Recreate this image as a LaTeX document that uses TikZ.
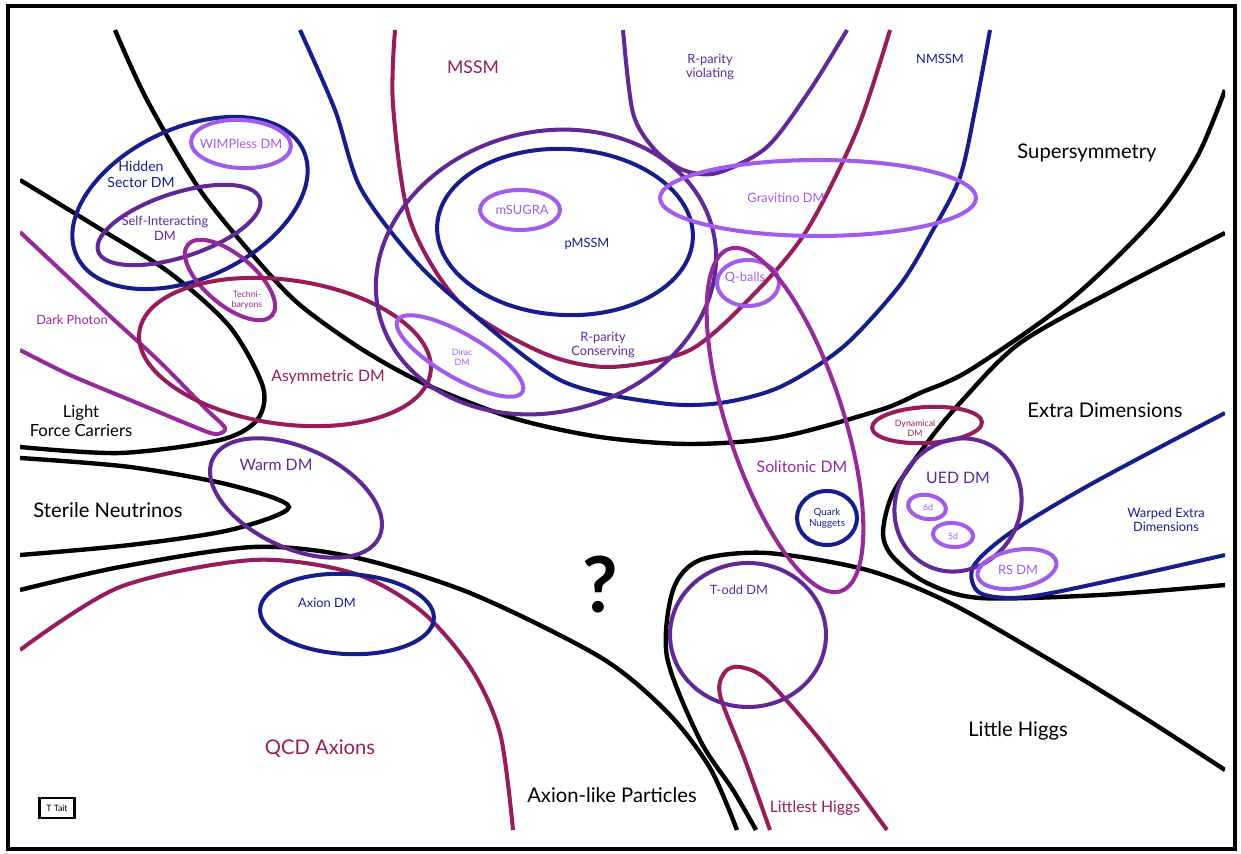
\documentclass[tikz,border=0pt]{standalone}
\usepackage{fontspec}
\setmainfont{Lato}
\usetikzlibrary{arrows.meta}
\definecolor{navy}{RGB}{22,30,140}
\definecolor{crimson}{RGB}{150,28,92}
\definecolor{grape}{RGB}{98,40,150}
\definecolor{orchid}{RGB}{150,42,155}
\definecolor{lilac}{RGB}{162,92,235}

\begin{document}
\begin{tikzpicture}[x=0.02cm, y=-0.02cm, line width=2.3pt,
    bigtxt/.style={font=\fontsize{11.5}{13}\selectfont},
    midtxt/.style={font=\fontsize{9}{10.5}\selectfont},
    smalltxt/.style={font=\fontsize{7.3}{8.3}\selectfont},
    tinytxt/.style={font=\fontsize{5}{5.8}\selectfont}]
    \useasboundingbox (0,0) rectangle (1241,854);
    \draw[line width=2pt] (8,6) rectangle (1235,849);

    \begin{scope}
      \clip (20,30) rectangle (1225,830);
      % theory borders
      \draw[line width=2.5pt] plot[smooth] coordinates {(115,30) (147,100) (200,190) (257,260) (300,305) (363,350) (427,385) (513,418) (600,437) (690,444) (780,437) (880,410) (920,393) (970,370) (1070,300) (1153,220) (1197,157) (1225,90)};
      \draw[line width=2.5pt] plot[smooth] coordinates {(20,180) (97,227) (170,273) (230,327) (263,387) (257,420) (220,440) (120,453) (20,447)};
      \draw[line width=2.5pt] plot[smooth] coordinates {(20,458) (130,467) (230,485) (289,507) (230,530) (130,545) (20,555)};
      \draw[line width=2.5pt] plot[smooth] coordinates {(20,590) (120,567) (253,547) (353,557) (470,593) (600,657) (667,712) (710,768) (737,830)};
      \draw[line width=2.5pt] plot[smooth] coordinates {(756,830) (733,790) (700,740) (667,657) (673,590) (700,560) (767,553) (867,570) (950,603) (1050,660) (1140,715) (1225,770)};
      \draw[line width=2.5pt] plot[smooth] coordinates {(1225,233) (1120,287) (1020,343) (960,403) (927,443) (893,493) (883,533) (893,557) (927,583) (980,598) (1100,595) (1225,585)};

      % open regions
      \draw[crimson] plot[smooth] coordinates {(395,30) (393,105) (410,220) (460,303) (543,353) (610,367) (690,350) (755,293) (807,230) (857,130) (890,30)};
      \draw[navy] plot[smooth] coordinates {(300,30) (335,110) (360,187) (410,255) (460,303) (560,380) (660,403) (720,403) (780,387) (843,347) (900,285) (933,230) (960,177) (975,110) (990,30)};
      \draw[grape] plot[smooth] coordinates {(623,30) (633,113) (655,150) (683,170) (717,173) (767,147) (810,90) (847,30)};
      \draw[crimson] plot[smooth] coordinates {(20,650) (120,587) (253,560) (353,573) (420,610) (470,667) (500,733) (513,830)};
      \draw[orchid] plot[smooth] coordinates {(20,232) (100,307) (160,362) (205,408) (225,428) (215,434) (190,425) (130,400) (70,375) (20,350)};
      \draw[crimson] plot[smooth] coordinates {(770,830) (745,760) (720,695) (725,672) (740,667) (767,680) (820,740) (887,830)};
      \draw[navy] plot[smooth] coordinates {(1225,413) (1093,483) (1010,533) (973,567) (980,593) (1027,597) (1127,577) (1225,555)};

      % dark matter candidates
      \draw[navy, rotate around={25:(190,203)}] (190,203) ellipse [x radius=125, y radius=75];
      \draw[lilac, rotate around={-3:(241,144)}] (241,144) ellipse [x radius=50, y radius=24];
      \draw[grape, rotate around={18:(179,225)}] (179,225) ellipse [x radius=85, y radius=32];
      \draw[orchid, rotate around={-40:(230,280)}] (230,280) ellipse [x radius=55, y radius=25];
      \draw[crimson, rotate around={-8:(285,352)}] (285,352) ellipse [x radius=147, y radius=72];
      \draw[grape, rotate around={15:(546,272)}] (546,272) ellipse [x radius=172, y radius=140];
      \draw[lilac, rotate around={-30:(460,356)}] (460,356) ellipse [x radius=72, y radius=22];
      \draw[navy, rotate around={-3:(565,232)}] (565,232) ellipse [x radius=128, y radius=83];
      \draw[lilac] (520,210) ellipse [x radius=40, y radius=20];
      \draw[lilac] (818,198) ellipse [x radius=158, y radius=38];
      \draw[lilac] (748,283) ellipse [x radius=31, y radius=23];
      \draw[orchid, rotate around={-72:(785,420)}] (785,420) ellipse [x radius=180, y radius=58];
      \draw[navy] (827,518) ellipse [x radius=30, y radius=27];
      \draw[crimson, rotate around={3:(927,425)}] (927,425) ellipse [x radius=55, y radius=18];
      \draw[grape, rotate around={60:(958,505)}] (958,505) ellipse [x radius=68, y radius=62];
      \draw[lilac, rotate around={-10:(927,507)}] (927,507) ellipse [x radius=19, y radius=12];
      \draw[lilac, rotate around={-5:(953,535)}] (953,535) ellipse [x radius=20, y radius=12];
      \draw[lilac, rotate around={10:(1017,569)}] (1017,569) ellipse [x radius=40, y radius=19];
      \draw[grape, rotate around={-25:(296,498)}] (296,498) ellipse [x radius=92, y radius=50];
      \draw[navy, rotate around={-3:(347,614)}] (347,614) ellipse [x radius=87, y radius=40];
      \draw[grape] (748,635) ellipse [x radius=78, y radius=72];
    \end{scope}

    \begin{scope}[every node/.style={bigtxt, align=center}]
      \node (susy) at (1087,153) {Supersymmetry};
      \node (xd) at (1105,410) {Extra Dimensions};
      \node (lh) at (1018,731) {Little Higgs};
      \node (alp) at (612,795) {Axion-like Particles};
      \node (sn) at (108,510) {Sterile Neutrinos};
      \node[font=\fontsize{9.5}{10.8}\selectfont] (lfc) at (81,421) {Light\\Force Carriers};
      \node[crimson] (qcd) at (320,749) {QCD Axions};
      \node[font=\fontsize{44}{44}\selectfont\bfseries] (q) at (600,585) {?};
    \end{scope}

    \begin{scope}[every node/.style={midtxt, align=center}]
      \node[crimson, font=\fontsize{10}{11}\selectfont] (mssm) at (473,67) {MSSM};
      \node[crimson] (asym) at (328,377) {Asymmetric DM};
      \node[crimson] (ltl) at (815,808) {Littlest Higgs};
      \node[grape] (warm) at (276,465) {Warm DM};
      \node[grape] (ued) at (958,478) {UED DM};
      \node[orchid] (sol) at (802,467) {Solitonic DM};
      \node[navy, font=\fontsize{8}{9}\selectfont] (hsdm) at (141,174) {Hidden\\Sector DM};
    \end{scope}

    \begin{scope}[every node/.style={smalltxt, align=center}]
      \node[navy] (nmssm) at (940,59) {NMSSM};
      \node[navy] (pmssm) at (587,244) {pMSSM};
      \node[navy] (axdm) at (327,603) {Axion DM};
      \node[navy] (wed) at (1166,520) {Warped Extra\\Dimensions};
      \node[grape] (rpv) at (710,67) {R-parity\\violating};
      \node[grape] (rpc) at (603,345) {R-parity\\Conserving};
      \node[grape] (sidm) at (165,228) {Self-Interacting\\DM};
      \node[grape] (todd) at (739,590) {T-odd DM};
      \node[orchid] (dp) at (72,320) {Dark Photon};
      \node[lilac] (wimpless) at (241,144) {WIMPless DM};
      \node[lilac] (msugra) at (522,210) {mSUGRA};
      \node[lilac] (grav) at (786,198) {Gravitino DM};
      \node[lilac] (qb) at (745,278) {Q-balls};
      \node[lilac] (rs) at (1018,570) {RS DM};
    \end{scope}

    \begin{scope}[every node/.style={tinytxt, align=center}]
      \node[orchid] (tb) at (247,300) {Techni-\\baryons};
      \node[lilac] (dirac) at (462,357) {Dirac\\DM};
      \node[crimson] (dyn) at (915,428) {Dynamical\\DM};
      \node[navy, font=\fontsize{5.6}{6.4}\selectfont] (qn) at (827,518) {Quark\\Nuggets};
      \node[lilac] (d6) at (928,507) {6d};
      \node[lilac] (d5) at (953,536) {5d};
      \node[draw, line width=1.2pt, minimum width=0.7cm, minimum height=0.4cm] (tt) at (57,808) {T Tait};
    \end{scope}
\end{tikzpicture}
\end{document}
